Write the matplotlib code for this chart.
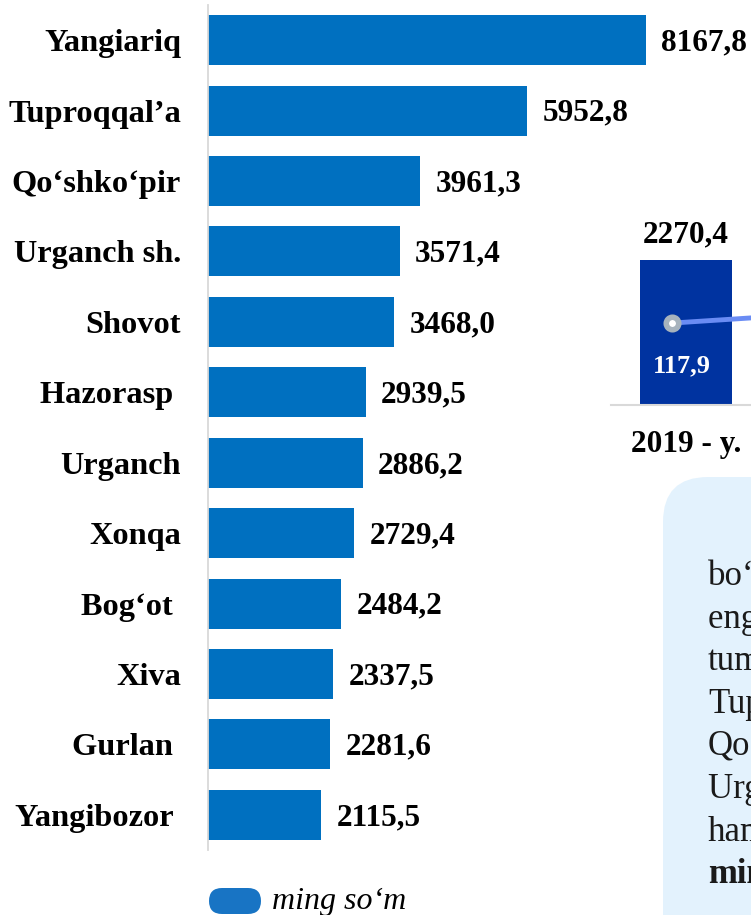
import matplotlib
matplotlib.use('Agg')
import matplotlib.pyplot as plt
from matplotlib.patches import FancyBboxPatch

plt.rcParams['font.family'] = ['Liberation Serif', 'DejaVu Serif']

# main chart data
districts = ['Yangiariq', 'Tuproqqal’a', 'Qo‘shko‘pir', 'Urganch sh.', 'Shovot',
             'Hazorasp ', 'Urganch', 'Xonqa', 'Bog‘ot ', 'Xiva', 'Gurlan ', 'Yangibozor ']
values = [8167.8, 5952.8, 3961.3, 3571.4, 3468.0, 2939.5,
          2886.2, 2729.4, 2484.2, 2337.5, 2281.6, 2115.5]

# partial chart on the right
year_labels = ['2019 - y.']
year_bars = [2270.4]
line_vals = [117.9, 132.0]

note_lines = ['bo‘yicha', 'eng yuqori', 'tumanlar', 'Tuproqqal’a,',
              'Qo‘shko‘pir,', 'Urganch sh.', 'hamda', 'mingdan']
legend_text = 'ming so‘m'


def fmt(v):
    return f'{v:.1f}'.replace('.', ',')


fig = plt.figure(figsize=(7.51, 9.15), dpi=100)

ax = fig.add_axes([208 / 751, 65 / 915, 543 / 751, 845 / 915])
ax.patch.set_alpha(0)
pos = range(len(values))
ax.barh(pos, values, height=0.71, color='#0070c0')
ax.set_ylim(11.5, -0.5)
ax.set_xlim(0, 10125)
ax.set_yticks(list(pos), districts, fontsize=23.3, fontweight='bold')
ax.set_xticks([])
ax.tick_params(axis='y', length=0, pad=19.5)
for s in ['top', 'right', 'bottom']:
    ax.spines[s].set_visible(False)
ax.spines['left'].set_color('#d9d9d9')
ax.spines['left'].set_linewidth(1.3)
for i, v in enumerate(values):
    ax.annotate(fmt(v), (v, i), xytext=(11, -2), textcoords='offset points',
                ha='left', va='center', fontsize=22.5, fontweight='bold')

# right chart (cut off by the slide edge)
ax2 = fig.add_axes([611 / 751, 510 / 915, 300 / 751, 205 / 915])
ax2.patch.set_alpha(0)
ax2.bar(range(len(year_bars)), year_bars, width=0.613, color='#0033a0')
ax2.set_xlim(-0.5, 1.5)
ax2.set_ylim(0, 3210)
ax2.set_xticks(range(len(year_labels)), year_labels, fontsize=22.5, fontweight='bold')
ax2.set_yticks([])
ax2.tick_params(axis='x', length=0, pad=18)
for s in ['top', 'right', 'left']:
    ax2.spines[s].set_visible(False)
ax2.spines['bottom'].set_color('#d9d9d9')
ax2.spines['bottom'].set_linewidth(1.5)
for i, v in enumerate(year_bars):
    ax2.annotate(fmt(v), (i, v), xytext=(0, 18), textcoords='offset points',
                 ha='center', va='center', fontsize=22.5, fontweight='bold')

ax3 = ax2.twinx()
ax3.set_ylim(0, 295)
ax3.set_yticks([])
for s in ax3.spines.values():
    s.set_visible(False)
lx = [i - 0.093 for i in range(len(line_vals))]
ax3.plot(lx, line_vals, color='#6a8cf4', lw=3.5, marker='o', ms=9,
         mfc='white', mec='#a7b3bd', mew=4, zorder=3)
ax3.annotate(fmt(line_vals[0]), (lx[0], line_vals[0]), xytext=(7, -31),
             textcoords='offset points', ha='center', va='center',
             color='white', fontsize=19, fontweight='bold')

# overlay for note box and legend
ov = fig.add_axes([0, 0, 1, 1])
ov.set_xlim(0, 751)
ov.set_ylim(915, 0)
ov.axis('off')
ov.patch.set_alpha(0)
ov.add_patch(FancyBboxPatch((663, 477), 200, 500,
                            boxstyle='round,pad=0,rounding_size=45',
                            fc='#e3f2fd', ec='none'))
for i, line in enumerate(note_lines):
    ov.text(708, 585 + i * 42.6, line, fontsize=25, va='baseline', ha='left',
            color='#1a1a1a', fontweight='bold' if i == len(note_lines) - 1 else 'normal')

ov.add_patch(FancyBboxPatch((209, 888), 52, 26,
                            boxstyle='round,pad=0,rounding_size=13',
                            fc='#1874c4', ec='none'))
ov.text(272, 901, legend_text, fontsize=23, style='italic', va='center', ha='left')

fig.savefig('out.png', dpi=100)
